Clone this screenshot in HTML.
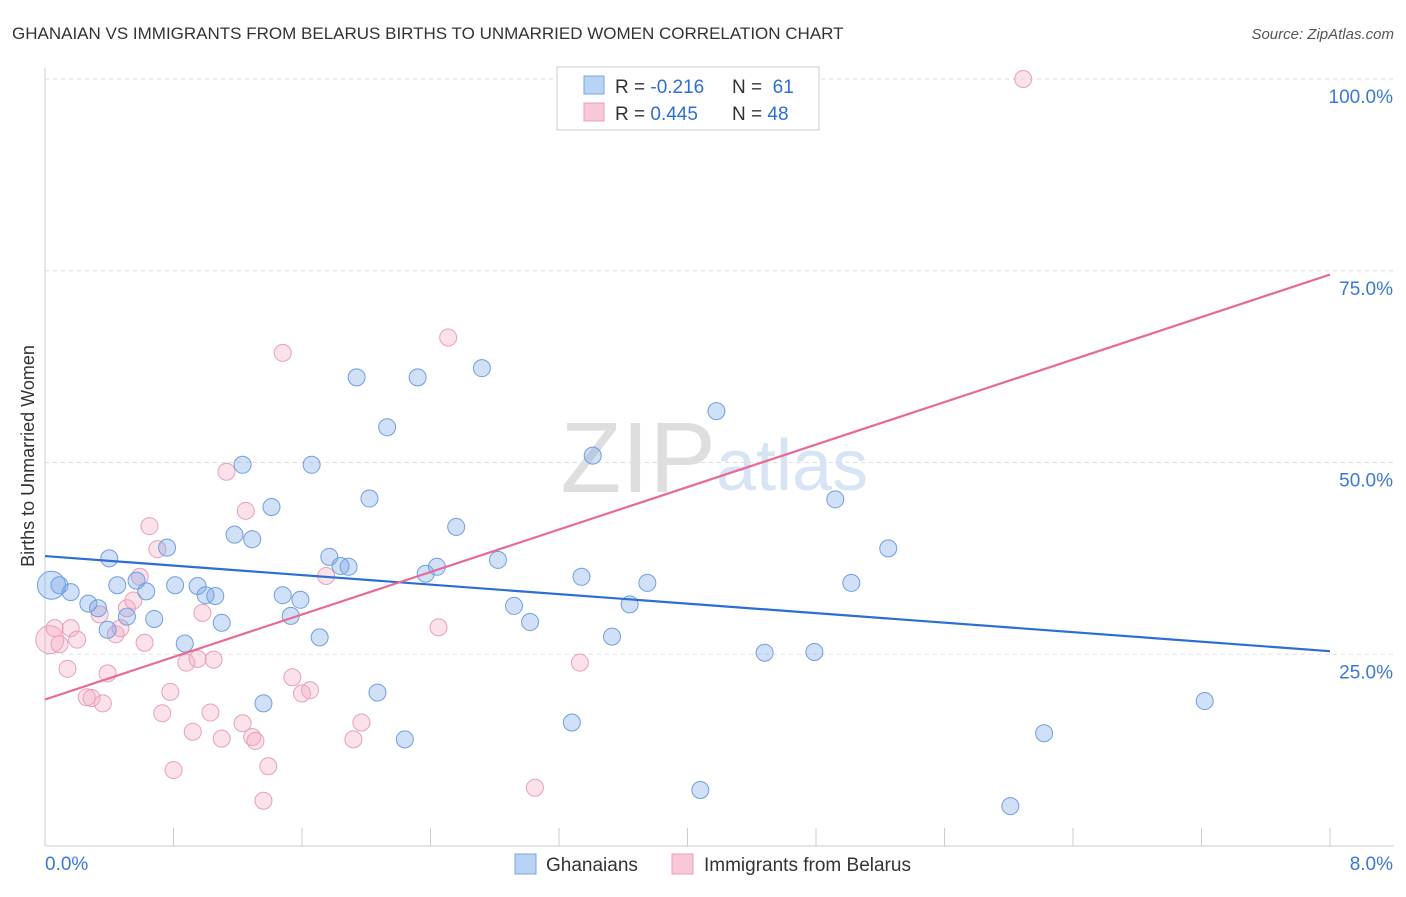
<!DOCTYPE html>
<html><head><meta charset="utf-8"><style>
body{margin:0;background:#fff;font-family:"Liberation Sans",sans-serif;}
svg text{font-family:"Liberation Sans",sans-serif;}
</style></head><body>
<svg id="chart" width="1406" height="892">
<text x="12" y="39" font-size="17" fill="#333">GHANAIAN VS IMMIGRANTS FROM BELARUS BIRTHS TO UNMARRIED WOMEN CORRELATION CHART</text>
<text x="1394" y="39" font-size="15" fill="#555" text-anchor="end" font-style="italic">Source: ZipAtlas.com</text>
<text x="716" y="492" font-size="100" fill="#dedede" text-anchor="end" font-family="Liberation Serif">ZIP</text>
<text x="716" y="490" font-size="72" fill="#d6e4f5">atlas</text>
<g id="grid"></g><g id="axes"></g><g id="pts"></g><g id="lines"></g>
<text transform="translate(34,456) rotate(-90)" font-size="18" fill="#333" text-anchor="middle">Births to Unmarried Women</text>
<g>
<rect x="557" y="67" width="262" height="63" fill="#fff" stroke="#ccc"/>
<rect x="584" y="76" width="20" height="18" fill="#b9d3f5" stroke="#7aa6e0"/>
<rect x="584" y="103" width="20" height="18" fill="#f9c8d8" stroke="#e8a0b8"/>
<text x="615" y="93" font-size="19" fill="#333">R = <tspan fill="#2b6fd6">-0.216</tspan></text>
<text x="732" y="93" font-size="19" fill="#333">N = <tspan fill="#2b6fd6">&#160;61</tspan></text>
<text x="615" y="120" font-size="19" fill="#333">R = <tspan fill="#2b6fd6"> 0.445</tspan></text>
<text x="732" y="120" font-size="19" fill="#333">N = <tspan fill="#2b6fd6">48</tspan></text>
</g>
<g>
<rect x="515" y="854" width="21" height="20" fill="#b9d3f5" stroke="#7aa6e0"/>
<text x="546" y="871" font-size="19" fill="#333">Ghanaians</text>
<rect x="672" y="854" width="21" height="20" fill="#f9c8d8" stroke="#e8a0b8"/>
<text x="704" y="871" font-size="19" fill="#333">Immigrants from Belarus</text>
</g>
</svg>
<script>
const xTicks=[0,0.8,1.6,2.4,3.2,4.0,4.8,5.6,6.4,7.2,8.0];
const yTicks=[25,50,75,100];
const yTickLabels=["25.0%","50.0%","75.0%","100.0%"];
const blueX=[0.04,0.09,0.16,0.27,0.33,0.39,0.4,0.45,0.51,0.57,0.63,0.68,0.76,0.81,0.87,0.95,1.0,1.06,1.10,1.18,1.23,1.29,1.36,1.41,1.48,1.53,1.59,1.66,1.71,1.77,1.84,1.89,1.94,2.02,2.07,2.13,2.24,2.32,2.37,2.44,2.56,2.72,2.82,2.92,3.02,3.28,3.34,3.41,3.53,3.64,3.75,4.08,4.18,4.48,4.79,4.92,5.02,5.25,6.01,6.22,7.22];
const blueY=[34.0,34.0,33.1,31.6,31.0,28.2,37.5,34.0,29.9,34.6,33.2,29.6,38.9,34.0,26.4,33.9,32.7,32.6,29.1,40.6,49.7,40.0,18.6,44.2,32.7,30.0,32.1,49.7,27.2,37.7,36.5,36.4,61.1,45.3,20.0,54.6,13.9,61.1,35.5,36.4,41.6,62.3,37.3,31.3,29.2,16.1,35.1,50.9,27.3,31.5,34.3,7.3,56.7,25.2,25.3,45.2,34.3,38.8,5.2,14.7,18.9];
const pinkX=[0.03,0.09,0.16,0.2,0.14,0.26,0.29,0.36,0.39,0.44,0.47,0.51,0.55,0.59,0.62,0.65,0.7,0.73,0.78,0.8,0.88,0.92,0.95,0.98,1.03,1.05,1.1,1.13,1.23,1.25,1.29,1.31,1.36,1.39,1.48,1.54,1.6,1.65,1.75,1.92,1.97,2.45,2.51,3.05,3.33,6.09,0.06,0.34];
const pinkY=[26.9,26.3,28.4,26.9,23.1,19.4,19.3,18.6,22.5,27.6,28.4,31.0,32.0,35.1,26.5,41.7,38.7,17.3,20.1,9.9,23.9,14.9,24.4,30.4,17.4,24.3,14.0,48.8,16.0,43.7,14.2,13.7,5.9,10.4,64.3,22.0,19.9,20.3,35.2,13.9,16.1,28.5,66.3,7.6,23.9,100,28.4,30.2];
const blueLine=[37.8,25.4];
const pinkLine=[19.1,74.5];
const NS='http://www.w3.org/2000/svg';
const X0=45,X1=1330,Y0=846,Y100=79;
const sx=v=>X0+(v/8)*(X1-X0);
const sy=v=>Y0-(v/100)*(Y0-Y100);
function mk(tag,attrs,parent){const e=document.createElementNS(NS,tag);for(const k in attrs)e.setAttribute(k,attrs[k]);document.getElementById(parent).appendChild(e);return e;}
yTicks.forEach((t,i)=>{
 const g=mk('line',{x1:X0,x2:1394,y1:sy(t),y2:sy(t),stroke:'#ddd','stroke-dasharray':'4,4'},'grid');
 
 
 const tx=mk('text',{x:1393,y:sy(t)+24,'font-size':19,fill:'#3a78d8','text-anchor':'end'},'grid');
 tx.textContent=yTickLabels[i];
 
 
});
const ax=mk('line',{x1:X0,x2:1394,y1:Y0,y2:Y0,stroke:'#ccc'},'axes');


const ay=mk('line',{x1:X0,x2:X0,y1:68,y2:Y0,stroke:'#ccc'},'axes');


xTicks.forEach(t=>{
 const l=mk('line',{x1:sx(t),x2:sx(t),y1:Y0,y2:828,stroke:'#ccc'},'axes');
 
 
});
[['0.0%',X0,'start'],['8.0%',1393,'end']].forEach(a=>{
 const t=mk('text',{x:a[1],y:870,'font-size':19,fill:'#3a78d8','text-anchor':a[2]},'axes');
 t.textContent=a[0];
 
 
});
function pts(xs,ys,fill,stroke,name){
 xs.forEach((x,i)=>{
  const r=(i===0)?14:8.5;
  const c=mk('circle',{cx:sx(x),cy:sy(ys[i]),r:r,fill:fill,stroke:stroke,'stroke-width':1},'pts');
  
  
 });
}
pts(pinkX,pinkY,'rgba(244,170,195,0.35)','#e8a0b8','belarus-point');
pts(blueX,blueY,'rgba(120,165,230,0.35)','#6f9fdf','ghanaian-point');
const bl=mk('line',{x1:sx(0),y1:sy(blueLine[0]),x2:sx(8),y2:sy(blueLine[1]),stroke:'#2b6fd6','stroke-width':2.2},'lines');


const pl=mk('line',{x1:sx(0),y1:sy(pinkLine[0]),x2:sx(8),y2:sy(pinkLine[1]),stroke:'#e86a95','stroke-width':2.2},'lines');


</script>
</body></html>
